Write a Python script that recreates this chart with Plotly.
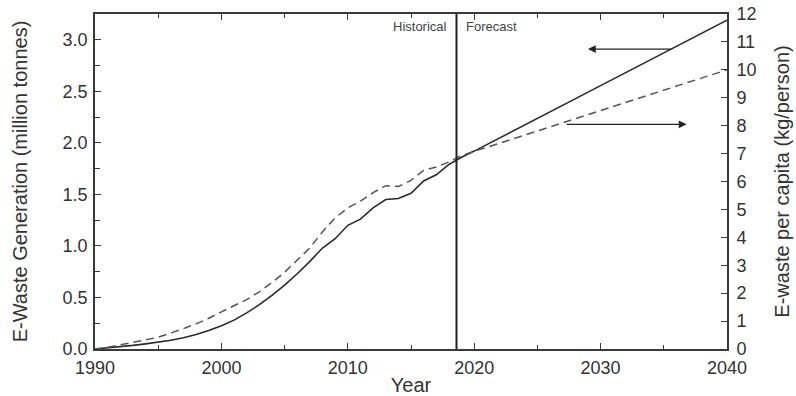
import plotly.graph_objects as go

# Historical + forecast totals (million tonnes, left axis)
years_total = [1990, 1991, 1992, 1993, 1994, 1995, 1996, 1997, 1998, 1999,
               2000, 2001, 2002, 2003, 2004, 2005, 2006, 2007, 2008, 2009,
               2010, 2011, 2012, 2013, 2014, 2015, 2016, 2017, 2018, 2019,
               2020, 2030, 2040]
total_mt = [0.0, 0.01, 0.022, 0.035, 0.05, 0.065, 0.085, 0.11, 0.14, 0.18,
            0.225, 0.28, 0.35, 0.43, 0.52, 0.62, 0.73, 0.85, 0.98, 1.07,
            1.2, 1.26, 1.37, 1.45, 1.46, 1.51, 1.63, 1.69, 1.79, 1.86,
            1.92, 2.555, 3.19]

# Per capita (kg/person, right axis)
years_pc = [1990, 1991, 1992, 1993, 1994, 1995, 1996, 1997, 1998, 1999,
            2000, 2001, 2002, 2003, 2004, 2005, 2006, 2007, 2008, 2009,
            2010, 2011, 2012, 2013, 2014, 2015, 2016, 2017, 2018, 2019,
            2020, 2030, 2040]
per_capita = [0.0, 0.06, 0.15, 0.25, 0.33, 0.42, 0.57, 0.73, 0.9, 1.1,
              1.33, 1.55, 1.77, 2.05, 2.38, 2.75, 3.2, 3.62, 4.2, 4.7,
              5.05, 5.3, 5.6, 5.85, 5.82, 6.04, 6.4, 6.52, 6.7, 6.93,
              7.08, 8.55, 10.0]

split_year = 2018.6
x_ticks = [1990, 2000, 2010, 2020, 2030, 2040]
left_ticks = [0.0, 0.5, 1.0, 1.5, 2.0, 2.5, 3.0]
right_ticks = list(range(0, 13))

axis_col = "#3a3a3a"
font_col = "#333333"
fam = "Liberation Sans, Arial, sans-serif"

fig = go.Figure()
fig.add_trace(go.Scatter(x=years_total, y=total_mt, mode="lines",
                         line=dict(color="#2a2a2a", width=1.6),
                         yaxis="y", showlegend=False))
fig.add_trace(go.Scatter(x=years_pc, y=per_capita, mode="lines",
                         line=dict(color="#555555", width=1.5, dash="8px,5px"),
                         yaxis="y2", showlegend=False))

fig.add_shape(type="line", x0=split_year, x1=split_year, xref="x",
              y0=0, y1=1, yref="paper",
              line=dict(color="#222222", width=2))

fig.add_annotation(x=split_year, y=0.99, xref="x", yref="paper",
                   text="Historical", showarrow=False, xanchor="right",
                   yanchor="top", xshift=-8,
                   font=dict(size=13, color="#444444", family=fam))
fig.add_annotation(x=split_year, y=0.99, xref="x", yref="paper",
                   text="Forecast", showarrow=False, xanchor="left",
                   yanchor="top", xshift=7,
                   font=dict(size=13, color="#444444", family=fam))

# arrows pointing to the relevant axis
fig.add_annotation(x=2029.0, y=2.91, ax=2035.7, ay=2.91,
                   xref="x", yref="y", axref="x", ayref="y",
                   text="", showarrow=True, arrowhead=2, arrowsize=1.2,
                   arrowwidth=1.3, arrowcolor="#222222")
fig.add_annotation(x=2036.8, y=2.18, ax=2027.2, ay=2.18,
                   xref="x", yref="y", axref="x", ayref="y",
                   text="", showarrow=True, arrowhead=2, arrowsize=1.2,
                   arrowwidth=1.3, arrowcolor="#222222")

tickfont = dict(size=18, color=font_col, family=fam)
fig.update_layout(
    width=796, height=396,
    margin=dict(l=95, r=69, t=14, b=47),
    paper_bgcolor="white", plot_bgcolor="white",
    font=dict(family=fam, color=font_col),
    xaxis=dict(range=[1990, 2040], tickvals=x_ticks, ticks="inside",
               ticklen=6, tickwidth=1.3, tickcolor=axis_col,
               minor=dict(dtick=5, ticks="inside", ticklen=4, tickcolor=axis_col),
               showline=True, linecolor=axis_col, linewidth=1.6,
               mirror="ticks", showgrid=False, zeroline=False,
               tickfont=tickfont, automargin=False, ticklabelstandoff=2,
               title=dict(text="Year", font=dict(size=20, color=font_col, family=fam),
                          standoff=8)),
    yaxis=dict(range=[0, 3.25], tickvals=left_ticks, tickformat=".1f",
               ticks="inside", ticklen=6, tickwidth=1.3, tickcolor=axis_col,
               minor=dict(dtick=0.25, ticks="inside", ticklen=5, tickcolor=axis_col),
               showline=True, linecolor=axis_col, linewidth=1.6,
               showgrid=False, zeroline=False, tickfont=tickfont,
               automargin=False, ticklabelstandoff=2,
               title=dict(text="E-Waste Generation (million tonnes)",
                          font=dict(size=20, color=font_col, family=fam),
                          standoff=30)),
    yaxis2=dict(range=[0, 12], tickvals=right_ticks, overlaying="y",
                side="right", ticks="inside", ticklen=6, tickwidth=1.3,
                tickcolor=axis_col, showline=True, linecolor=axis_col,
                linewidth=1.6, showgrid=False, zeroline=False,
                tickfont=tickfont, automargin=False, ticklabelstandoff=4,
                title=dict(text="E-waste per capita (kg/person)",
                           font=dict(size=20, color=font_col, family=fam),
                           standoff=20)),
)

fig.write_html("out.html")
